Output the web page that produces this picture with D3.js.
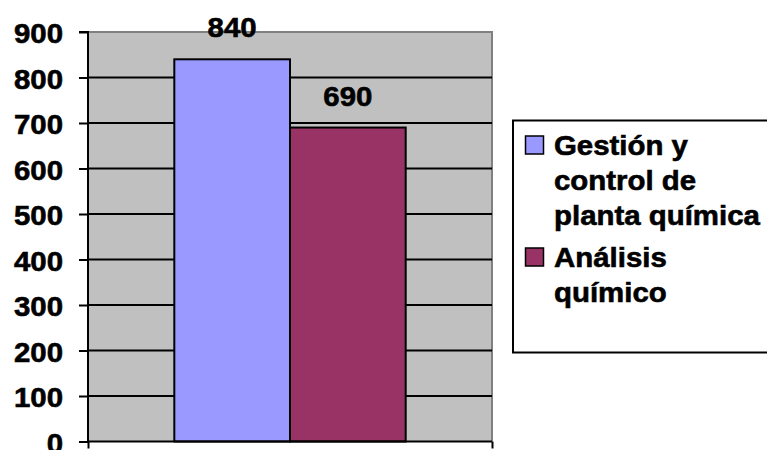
<!DOCTYPE html>
<html>
<head>
<meta charset="utf-8">
<script src="https://cdn.jsdelivr.net/npm/d3@7/dist/d3.min.js"></script>
<style>
  html, body { margin: 0; padding: 0; background: #fff; }
  svg { display: block; }
  text { font-family: "Liberation Sans", Arial, sans-serif; font-weight: bold; fill: #000; stroke: #000; stroke-width: 0.6px; }
</style>
</head>
<body>
<svg id="chart" width="767" height="450"></svg>
<script>
const categories = [""];
const seriesNames = ["Gestión y control de planta química", "Análisis químico"];
const seriesLegendLines = [["Gestión y", "control de", "planta química"], ["Análisis", "químico"]];
const seriesValues = [[840], [690]];
const seriesColors = ["#9999ff", "#993366"];
const yTicks = [0, 100, 200, 300, 400, 500, 600, 700, 800, 900];

(function () {
const svg = d3.select("#chart");
const FS = 28, STRETCH = 1.05;

function stretch(sel) {
  sel.each(function () {
    const len = this.getComputedTextLength();
    d3.select(this).attr("textLength", len * STRETCH).attr("lengthAdjust", "spacingAndGlyphs");
  });
}

const pL = 88, pR = 492, pT = 32, pB = 441.5;
const y = d3.scaleLinear().domain([0, 900]).range([pB, pT]);
const x = d3.scaleBand().domain(categories).range([pL, pR]).paddingInner(0).paddingOuter(0.373);
const xs = d3.scaleBand().domain(d3.range(seriesNames.length)).range([0, x.bandwidth()]);

// plot background
svg.append("rect").attr("x", pL).attr("y", pT).attr("width", pR - pL).attr("height", pB - pT).attr("fill", "#c0c0c0");
// top & right border (gray)
svg.append("path").attr("d", `M${pL},${pT}H${pR}V${pB}`).attr("fill", "none").attr("stroke", "#808080").attr("stroke-width", 2);

// gridlines
svg.append("g").selectAll("line").data(yTicks.filter(d => d > 0 && d < 900)).join("line")
  .attr("x1", pL).attr("x2", pR).attr("y1", d => y(d)).attr("y2", d => y(d))
  .attr("stroke", "#000").attr("stroke-width", 2);

// bars
categories.forEach((c, ci) => {
  seriesValues.forEach((vals, si) => {
    const bx = x(c) + xs(si);
    svg.append("rect")
      .attr("x", bx).attr("y", y(vals[ci]))
      .attr("width", xs.bandwidth()).attr("height", y(0) - y(vals[ci]))
      .attr("fill", seriesColors[si]).attr("stroke", "#000").attr("stroke-width", 2);
    svg.append("text")
      .attr("x", bx + xs.bandwidth() / 2).attr("y", y(vals[ci]) - 22)
      .attr("text-anchor", "middle").attr("font-size", FS)
      .text(vals[ci]).call(stretch);
  });
});

// y axis
const yAxis = d3.axisLeft(y).tickValues(yTicks).tickSize(9).tickPadding(16).tickFormat(d3.format("d"));
const gy = svg.append("g").attr("transform", `translate(${pL},0)`).call(yAxis);
gy.select(".domain").attr("stroke", "#000").attr("stroke-width", 2).attr("d", `M-9,${pT}H0V${pB}`);
gy.selectAll(".tick line").attr("stroke", "#000").attr("stroke-width", 2);
gy.selectAll(".tick text").attr("font-size", FS).attr("font-family", "Liberation Sans, Arial, sans-serif")
  .attr("font-weight", "bold").attr("fill", "#000").attr("dy", "0.38em").call(stretch);

// x axis
const xEdge = d3.scaleLinear().domain([0, 1]).range([pL, pR]);
const xAxis = d3.axisBottom(xEdge).tickValues([0, 1]).tickSize(7).tickFormat("");
const gx = svg.append("g").attr("transform", `translate(0,${pB})`).call(xAxis);
gx.select(".domain").attr("stroke", "#000").attr("stroke-width", 2).attr("d", `M${pL},0H${pR}`);
gx.selectAll(".tick line").attr("stroke", "#000").attr("stroke-width", 2);

// legend
const lg = svg.append("g");
lg.append("rect").attr("x", 513).attr("y", 120.5).attr("width", 270).attr("height", 232)
  .attr("fill", "#fff").attr("stroke", "#000").attr("stroke-width", 2);
const lineH = 35;
let baseY = 155;
seriesLegendLines.forEach((lines, si) => {
  lg.append("rect").attr("x", 525.5).attr("y", baseY - 19).attr("width", 18).attr("height", 18)
    .attr("fill", seriesColors[si]).attr("stroke", "#000").attr("stroke-width", 1.5);
  lines.forEach((ln, li) => {
    lg.append("text").attr("x", 554).attr("y", baseY + li * lineH).attr("font-size", FS).text(ln).call(stretch);
  });
  baseY += lines.length * lineH + 7;
});
})();
</script>
</body>
</html>
